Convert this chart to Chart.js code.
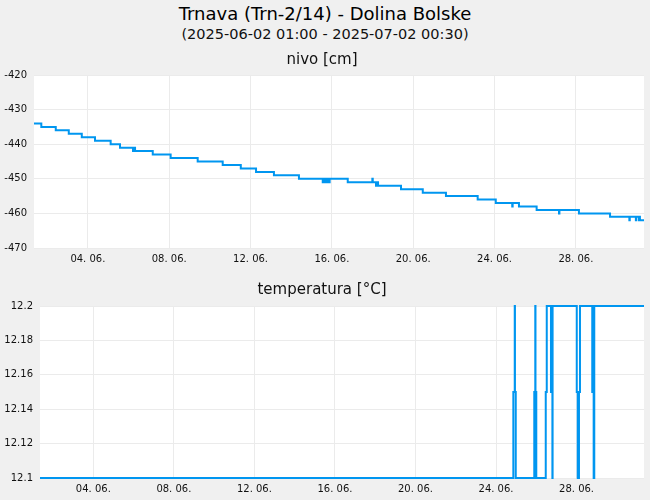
<!DOCTYPE html>
<html>
<head>
<meta charset="utf-8">
<title>Trnava (Trn-2/14) - Dolina Bolske</title>
<script src="https://cdn.jsdelivr.net/npm/chart.js@4.4.1/dist/chart.umd.min.js"></script>
<style>
    html, body {
        margin: 0;
        padding: 0;
        background: #f0f0f0;
        font-family: 'DejaVu Sans', sans-serif;
    }
    #page {
        position: relative;
        width: 650px;
        height: 500px;
        overflow: hidden;
    }
    .title {
        position: absolute;
        left: 0;
        width: 650px;
        text-align: center;
        white-space: nowrap;
    }
    #mainTitle {
        top: 3px;
        font-size: 18px;
        line-height: 22px;
        color: #000;
    }
    #subTitle {
        top: 25px;
        font-size: 14.5px;
        line-height: 18px;
        color: #111;
    }
    .box {
        position: absolute;
        left: 0;
        width: 650px;
    }
    #nivoBox { top: 45px; height: 225px; }
    #tempBox { top: 270px; height: 230px; }
</style>
</head>
<body>
<div id="page">
    <div id="mainTitle" class="title">Trnava (Trn-2/14) - Dolina Bolske</div>
    <div id="subTitle" class="title">(2025-06-02 01:00 - 2025-07-02 00:30)</div>
    <div id="nivoBox" class="box"><canvas id="nivoChart"></canvas></div>
    <div id="tempBox" class="box"><canvas id="tempChart"></canvas></div>
</div>
<script>
// x axis: day of June (fractional), range of the measurement period
const xMin = 1.35;
const xMax = 31.35;
const tickDays = [4, 8, 12, 16, 20, 24, 28];
const tickLabels = ['04. 06.', '08. 06.', '12. 06.', '16. 06.', '20. 06.', '24. 06.', '28. 06.'];

// nivo [cm] - points where the level changes (held until the next point)
const nivoDays = [
    1.35, 1.71, 2.42, 3.06, 3.70, 4.35, 5.12, 5.58, 6.22, 6.24,
    6.32, 7.19, 8.07, 9.40, 10.63, 11.52, 12.27, 13.15, 14.38, 15.55,
    15.58, 15.66, 15.69, 15.76, 15.79, 15.86, 15.89, 16.78, 17.99, 18.01,
    18.17, 18.25, 18.27, 19.40, 20.47, 21.61, 23.17, 24.06, 24.87, 24.89,
    25.20, 26.07, 27.17, 27.19, 28.15, 29.68, 30.63, 30.65, 30.95, 30.97,
    31.10, 31.12, 31.15, 31.35
];
const nivoValues = [
    -434, -435, -436, -437, -438, -439, -440, -441, -442, -441,
    -442, -443, -444, -445, -446, -447, -448, -449, -450, -451,
    -450, -451, -450, -451, -450, -451, -450, -451, -450, -451,
    -452, -451, -452, -453, -454, -455, -456, -457, -458, -457,
    -458, -459, -460, -459, -460, -461, -462, -461, -462, -461,
    -462, -461, -462, -462
];

// temperatura [°C] - change points
const tempDays = [
    1.35, 24.86, 24.93, 24.94, 24.98, 25.90, 25.95, 25.96, 26.00, 26.47,
    26.52, 26.73, 26.80, 26.81, 28.01, 28.06, 28.12, 28.17, 28.78, 28.85,
    28.88, 31.35
];
const tempValues = [
    12.1, 12.15, 12.2, 12.15, 12.1, 12.15, 12.2, 12.15, 12.1, 12.15,
    12.2, 12.15, 12.1, 12.2, 12.15, 12.1, 12.15, 12.2, 12.15, 12.1,
    12.2, 12.2
];

const lineColor = 'rgb(0, 150, 240)';
const gridColor = '#ebebeb';

Chart.defaults.font.family = "'DejaVu Sans', sans-serif";
Chart.defaults.color = '#111';

// white plot area on the grey page
const plotBackground = {
    id: 'plotBackground',
    beforeDraw(chart) {
        const a = chart.chartArea;
        const ctx = chart.ctx;
        ctx.save();
        ctx.fillStyle = '#ffffff';
        ctx.fillRect(a.left, a.top, a.right - a.left, a.bottom - a.top);
        ctx.restore();
    }
};

function toPoints(days, values) {
    return days.map((d, i) => ({ x: d, y: values[i] }));
}

// 12.20 -> "12.2", 12.18 -> "12.18"
function shortNumber(value) {
    return String(parseFloat(Number(value).toFixed(2)));
}

function makeChart(canvasId, titleText, titlePad, yMin, yMax, yStep, yWidth, xHeight, days, values) {
    const ctx = document.getElementById(canvasId).getContext('2d');
    return new Chart(ctx, {
        type: 'line',
        data: {
            datasets: [
                {
                    data: toPoints(days, values),
                    borderColor: lineColor,
                    borderWidth: 2,
                    pointRadius: 0,
                    stepped: true,
                    fill: false,
                    clip: 3
                }
            ]
        },
        options: {
            responsive: true,
            maintainAspectRatio: false,
            animation: false,
            layout: {
                padding: { left: 0, right: 6, top: 0, bottom: 0 }
            },
            plugins: {
                legend: { display: false },
                tooltip: { enabled: false },
                title: {
                    display: true,
                    text: titleText,
                    color: '#111',
                    font: { size: 15, weight: 'normal' },
                    padding: titlePad
                }
            },
            scales: {
                x: {
                    type: 'linear',
                    min: xMin,
                    max: xMax,
                    afterBuildTicks: scale => {
                        scale.ticks = tickDays.map(v => ({ value: v }));
                    },
                    afterFit: scale => {
                        scale.height = xHeight;
                    },
                    ticks: {
                        autoSkip: false,
                        maxRotation: 0,
                        padding: 5,
                        font: { size: 10 },
                        callback: (value, index) => tickLabels[index]
                    },
                    grid: { color: gridColor, drawTicks: false },
                    border: { display: false }
                },
                y: {
                    min: yMin,
                    max: yMax,
                    afterFit: scale => {
                        scale.width = yWidth;
                    },
                    ticks: {
                        stepSize: yStep,
                        padding: 7,
                        font: { size: 10 },
                        callback: value => shortNumber(value)
                    },
                    grid: { color: gridColor, drawTicks: false },
                    border: { display: false }
                }
            }
        },
        plugins: [plotBackground]
    });
}

makeChart('nivoChart', 'nivo [cm]', { top: 6, bottom: 6 }, -470, -420, 10, 34, 22, nivoDays, nivoValues);
makeChart('tempChart', 'temperatura [°C]', { top: 11, bottom: 7 }, 12.1, 12.2, 0.02, 40, 22, tempDays, tempValues);
</script>
</body>
</html>
